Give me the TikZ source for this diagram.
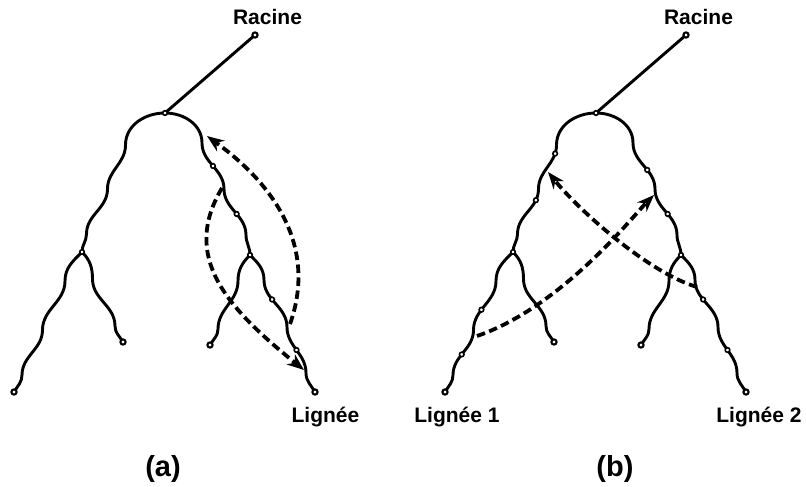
\documentclass[tikz,border=0pt]{standalone}
\usepackage{fontspec}
\newfontfamily\lab{Liberation Sans}
\usetikzlibrary{arrows.meta}
\tikzset{
  branch/.style={line width=2.9pt, line cap=round, line join=round},
  dot/.style={circle, draw, fill=white, line width=1.6pt, inner sep=0pt, minimum size=4.6pt},
  leafdot/.style={circle, draw, fill=white, line width=2.1pt, inner sep=0pt, minimum size=5.2pt},
  dasharrow/.style={line width=3.8pt, dash pattern=on 8.5pt off 4.5pt, -{Stealth[length=17pt,width=13pt]}},
  lbl/.style={font=\lab\bfseries\fontsize{21}{24}\selectfont, inner sep=0pt, anchor=base},
  caplbl/.style={font=\lab\bfseries\fontsize{29}{32}\selectfont, inner sep=0pt, anchor=base},
}
\newcommand\drawtree[2]{%
\begin{scope}[xshift=#2pt]
 \coordinate (#1R) at (255,35);
 \coordinate (#1T) at (165,113);
 \coordinate (#1JL) at (82,252);
 \coordinate (#1JR) at (250,255);
 \draw[branch] (#1R) -- (#1T);
 \draw[branch] (#1T) to[out=180,in=90] (125.5,145) coordinate (#1L1)
   to[out=-90,in=90] (107.5,189) coordinate (#1L2)
   to[out=-90,in=90] (86.5,234) coordinate (#1L3)
   to[out=-90,in=90] (#1JL);
 \draw[branch] (#1T) to[out=0,in=90] (202,143) coordinate (#1R1)
   to[out=-90,in=90] (224,189) coordinate (#1R2)
   to[out=-90,in=90] (246,235) coordinate (#1R3)
   to[out=-90,in=90] (#1JR);
 \draw[branch] (#1JL) to[out=-135,in=90] (65,281) coordinate (#1LL1)
   to[out=-90,in=90] (42.5,330) coordinate (#1LL2)
   to[out=-90,in=90] (22,375) coordinate (#1LL3)
   to[out=-90,in=60] (14,392) coordinate (#1leafA);
 \draw[branch] (#1JL) to[out=-45,in=90] (92.5,279) coordinate (#1LR1)
   to[out=-90,in=90] (115,326) coordinate (#1LR2)
   to[out=-90,in=120] (123,342) coordinate (#1leafB);
 \draw[branch] (#1JR) to[out=-135,in=90] (238,281) coordinate (#1RL1)
   to[out=-90,in=90] (218,329) coordinate (#1RL2)
   to[out=-90,in=60] (210,345) coordinate (#1leafC);
 \draw[branch] (#1JR) to[out=-45,in=90] (264,280) coordinate (#1RR1)
   to[out=-90,in=90] (287,327) coordinate (#1RR2)
   to[out=-90,in=90] (306,373) coordinate (#1RR3)
   to[out=-90,in=120] (315,392) coordinate (#1leafD);
 \node[leafdot] (#1Rn) at (#1R) {};
 \node[dot] (#1Tn) at (#1T) {};
 \node[dot] (#1JLn) at (#1JL) {};
 \node[dot] (#1JRn) at (#1JR) {};
 \node[leafdot] (#1An) at (#1leafA) {};
 \node[leafdot] (#1Bn) at (#1leafB) {};
 \node[leafdot] (#1Cn) at (#1leafC) {};
 \node[leafdot] (#1Dn) at (#1leafD) {};
\end{scope}}

\begin{document}
\begin{tikzpicture}[x=1pt,y=-1pt]
\useasboundingbox (0,0) rectangle (806,487);

\drawtree{a}{0}
\drawtree{b}{431}

% extra dots, tree (a)
\path (aR1) to[out=-90,in=90] node[dot,pos=0.5] (adr1) {} (aR2);
\path (aR2) to[out=-90,in=90] node[dot,pos=0.55] (adr2) {} (aR3);
\path (aRR1) to[out=-90,in=90] node[dot,pos=0.4] (adrr1) {} (aRR2);
\path (aRR2) to[out=-90,in=90] node[dot,pos=0.5] (adrr2) {} (aRR3);

% extra dots, tree (b)
\path (bL1) to[out=-90,in=90] node[dot,pos=0.17] (bdl1) {} (bL2);
\path (bL2) to[out=-90,in=90] node[dot,pos=0.22] (bdl2) {} (bL3);
\path (bR1) to[out=-90,in=90] node[dot,pos=0.6] (bdr1) {} (bR2);
\path (bR2) to[out=-90,in=90] node[dot,pos=0.55] (bdr2) {} (bR3);
\path (bLL1) to[out=-90,in=90] node[dot,pos=0.6] (bdll1) {} (bLL2);
\path (bLL2) to[out=-90,in=90] node[dot,pos=0.55] (bdll2) {} (bLL3);
\path (bRR1) to[out=-90,in=90] node[dot,pos=0.4] (bdrr1) {} (bRR2);
\path (bRR2) to[out=-90,in=90] node[dot,pos=0.5] (bdrr2) {} (bRR3);

% dashed arrows
\coordinate (a1s) at (290,324); \coordinate (a1e) at (207,136);
\coordinate (a2s) at (222,188); \coordinate (a2e) at (304,370);
\coordinate (b1s) at (477,336); \coordinate (b1e) at (654,195);
\coordinate (b2s) at (697,287); \coordinate (b2e) at (548,172);
\draw[dasharrow] (a1s) .. controls (317,248) and (276,186) .. (a1e);
\draw[dasharrow] (a2s) .. controls (181,257) and (226,307) .. (a2e);
\draw[dasharrow] (b1s) .. controls (562,306.7) and (632.8,216.2) .. (b1e);
\draw[dasharrow] (b2s) .. controls (649,273) and (579.5,211) .. (b2e);

% labels
\node[lbl] (racA) at (267.5,25) {Racine};
\node[lbl] (racB) at (698.5,25) {Racine};
\node[lbl] (linA) at (325.5,422) {Lignée};
\node[lbl] (lin1) at (457,422) {Lignée 1};
\node[lbl] (lin2) at (759,422) {Lignée 2};
\node[caplbl] (capA) at (163,476) {(a)};
\node[caplbl] (capB) at (615,476) {(b)};
\end{tikzpicture}
\end{document}
